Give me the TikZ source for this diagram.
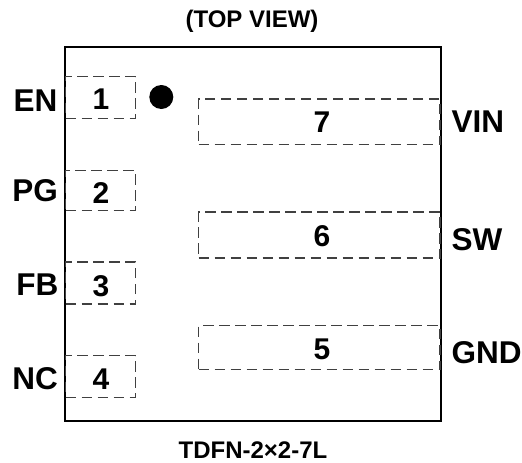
\documentclass[tikz,border=0pt]{standalone}
\usepackage{fontspec}
\setmainfont{Liberation Sans}
\tikzset{
  x=1pt,y=-1pt,
  outline/.style={draw=black,line width=2.2pt,minimum width=376pt,minimum height=374pt,inner sep=0pt,outer sep=0pt},
  pad/.style={draw=black!75,line width=1.1pt,dash pattern=on 10.5pt off 5.5pt,inner sep=0pt,outer sep=0pt,anchor=north west},
  dot/.style={circle,fill=black,minimum size=24pt,inner sep=0pt},
  pinname/.style={font=\fontsize{31.5}{33}\selectfont\bfseries,inner sep=0pt},
  num/.style={font=\fontsize{30}{32}\selectfont\bfseries,inner sep=0pt},
  caption/.style={font=\fontsize{24}{26}\selectfont\bfseries,inner sep=0pt},
}
\begin{document}
\begin{tikzpicture}
\useasboundingbox (0,0) rectangle (522,463);
\node[outline] (body) at (253,234) {};
\node[pad,minimum width=70pt,minimum height=42pt] (p1) at (65.5,76.5) {};
\node[pad,minimum width=70pt,minimum height=40pt] (p2) at (65.5,170.5) {};
\node[pad,minimum width=70pt,minimum height=42pt] (p3) at (65.5,262) {};
\node[pad,minimum width=70pt,minimum height=42pt] (p4) at (65.5,355.5) {};
\node[pad,minimum width=241.5pt,minimum height=45.5pt] (p7) at (198.5,99) {};
\node[pad,minimum width=241.5pt,minimum height=46pt] (p6) at (198.5,212) {};
\node[pad,minimum width=241.5pt,minimum height=44pt] (p5) at (198.5,325.5) {};
\node[dot] (mark) at (161.3,97) {};
\node[num] (n1) at (101,99) {1};
\node[num] (n2) at (101,193) {2};
\node[num] (n3) at (101,286) {3};
\node[num] (n4) at (101,379) {4};
\node[num] (n7) at (322,122) {7};
\node[num] (n6) at (322,236) {6};
\node[num] (n5) at (322,349) {5};
\node[pinname,anchor=east] (en) at (57.5,101) {EN};
\node[pinname,anchor=east] (pg) at (58,191) {PG};
\node[pinname,anchor=east] (fb) at (58.5,285) {FB};
\node[pinname,anchor=east] (nc) at (58,379) {NC};
\node[pinname,anchor=west] (vin) at (451.5,122) {VIN};
\node[pinname,anchor=west] (sw) at (451.5,240) {SW};
\node[pinname,anchor=west] (gnd) at (451.5,353) {GND};
\node[caption] (top) at (252,21) {(TOP VIEW)};
\node[caption] (pkg) at (253,450) {TDFN-2×2-7L};
\end{tikzpicture}
\end{document}
